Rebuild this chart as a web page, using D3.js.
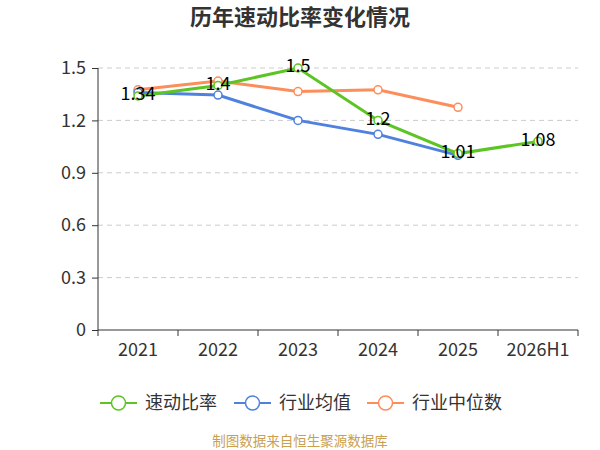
<!DOCTYPE html>
<html>
<head>
<meta charset="utf-8">
<script src="https://cdn.jsdelivr.net/npm/d3@7"></script>
<style>
  body { margin: 0; background: #fff; }
  text { font-family: "Noto Sans CJK SC", "Noto Sans", sans-serif; }
</style>
</head>
<body>
<div id="chart"></div>
<script>
// data
var years = ["2021", "2022", "2023", "2024", "2025", "2026H1"];
var quickRatio = [1.34, 1.4, 1.5, 1.2, 1.01, 1.08];
var industryMean = [1.36, 1.345, 1.2, 1.12, 1.0];
var industryMedian = [1.375, 1.425, 1.365, 1.375, 1.275];
var yTicks = [0, 0.3, 0.6, 0.9, 1.2, 1.5];

var seriesNames = ["速动比率", "行业均值", "行业中位数"];
var colors = ["#5cc523", "#4f81de", "#fc8e5c"];

var W = 600, H = 450;
var margin = {top: 68, right: 22, bottom: 120, left: 98};
var width = W - margin.left - margin.right,
    height = H - margin.top - margin.bottom;

var svg = d3.select("#chart")
  .append("svg")
    .attr("width", W)
    .attr("height", H);

svg.append("text")
  .attr("x", W / 2)
  .attr("y", 25)
  .attr("text-anchor", "middle")
  .style("font-size", "22px")
  .style("font-weight", "bold")
  .style("fill", "#333")
  .text("历年速动比率变化情况");

var g = svg.append("g")
  .attr("transform", "translate(" + margin.left + "," + margin.top + ")");

var x = d3.scaleBand().domain(years).range([0, width]);
var y = d3.scaleLinear().domain([0, 1.5]).range([height, 0]);

// grid
g.append("g")
  .selectAll("line")
  .data(yTicks.filter(d => d > 0))
  .enter()
  .append("line")
    .attr("x1", 0)
    .attr("x2", width)
    .attr("y1", d => y(d))
    .attr("y2", d => y(d))
    .attr("stroke", "#ccc")
    .attr("stroke-dasharray", "5,4");

// y axis
var yAxis = g.append("g")
  .call(d3.axisLeft(y).tickValues(yTicks).tickSize(6).tickPadding(6)
    .tickFormat(d => d === 0 ? "0" : d3.format(".1f")(d)));
yAxis.selectAll("text").style("font-size", "18px").style("fill", "#333");
yAxis.selectAll("line, path").attr("stroke", "#333");
yAxis.select("path").attr("d", "M0," + height + "V0");

// x axis
var xAxis = g.append("g")
  .attr("transform", "translate(0," + height + ")")
  .call(d3.axisBottom(x).tickSize(0).tickPadding(13));
xAxis.selectAll("text").style("font-size", "18px").style("fill", "#333");
xAxis.select("path").attr("stroke", "#333").attr("d", "M0,0H" + width);
xAxis.append("g")
  .selectAll("line")
  .data(d3.range(years.length + 1))
  .enter()
  .append("line")
    .attr("x1", i => i * x.bandwidth())
    .attr("x2", i => i * x.bandwidth())
    .attr("y1", 0)
    .attr("y2", 6)
    .attr("stroke", "#333");

var cx = d => x(d) + x.bandwidth() / 2;
var allSeries = [quickRatio, industryMean, industryMedian];

var line = d3.line()
  .x((d, i) => cx(years[i]))
  .y(d => y(d));

// draw medians first, main series last
[2, 1, 0].forEach(function(s) {
  var vals = allSeries[s];
  g.append("path")
    .datum(vals)
    .attr("fill", "none")
    .attr("stroke", colors[s])
    .attr("stroke-width", 3)
    .attr("d", line);
  g.append("g")
    .selectAll("circle")
    .data(vals)
    .enter()
    .append("circle")
      .attr("cx", (d, i) => cx(years[i]))
      .attr("cy", d => y(d))
      .attr("r", 4)
      .attr("fill", "#fff")
      .attr("stroke", colors[s])
      .attr("stroke-width", 1.5);
});

// value labels on main series
g.append("g")
  .selectAll("text")
  .data(quickRatio)
  .enter()
  .append("text")
    .attr("x", (d, i) => cx(years[i]))
    .attr("y", d => y(d) - 2)
    .attr("dy", "0.35em")
    .attr("text-anchor", "middle")
    .style("font-size", "18px")
    .style("fill", "#000")
    .text(d => d);

// legend
var legendX = [100, 234, 367];
var legend = svg.append("g")
  .selectAll("g")
  .data(seriesNames)
  .enter()
  .append("g")
    .attr("transform", (d, i) => "translate(" + legendX[i] + ",403)");
legend.append("line")
  .attr("x1", 0).attr("x2", 37)
  .attr("stroke", (d, i) => colors[i])
  .attr("stroke-width", 2);
legend.append("circle")
  .attr("cx", 18.5).attr("r", 7)
  .attr("fill", "#fff")
  .attr("stroke", (d, i) => colors[i])
  .attr("stroke-width", 1.5);
legend.append("text")
  .attr("x", 45)
  .attr("dy", "0.35em")
  .style("font-size", "18px")
  .style("fill", "#333")
  .text(d => d);

svg.append("text")
  .attr("x", W / 2)
  .attr("y", 446)
  .attr("text-anchor", "middle")
  .style("font-size", "13.5px")
  .style("fill", "#c9a050")
  .text("制图数据来自恒生聚源数据库");
</script>
</body>
</html>
